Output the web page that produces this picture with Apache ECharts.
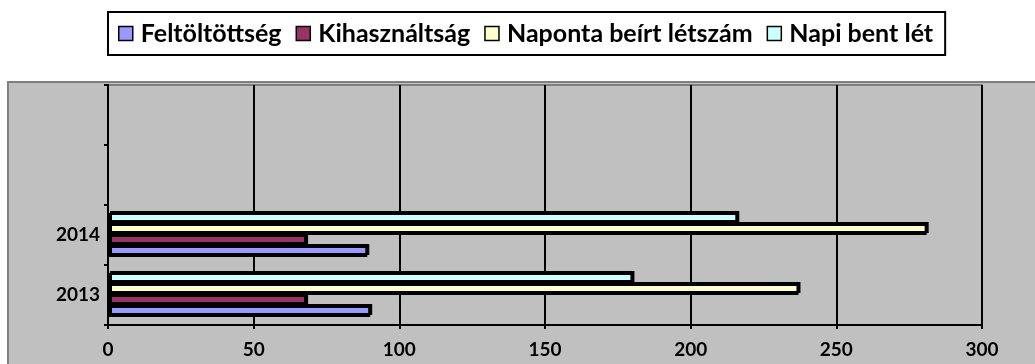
<!DOCTYPE html>
<html>
<head>
<meta charset="utf-8">
<script src="https://cdn.jsdelivr.net/npm/echarts@6/dist/echarts.min.js"></script>
<style>
  html, body { margin: 0; padding: 0; background: #ffffff; }
  #chart { width: 1035px; height: 364px; }
</style>
</head>
<body>
<div id="chart"></div>
<script>
// Years on the category axis; the two empty slots leave headroom above the bars
const years = ['2013', '2014', '', ''];
const seriesNames = ['Feltöltöttség', 'Kihasználtság', 'Naponta beírt létszám', 'Napi bent lét'];
const feltoltottseg = [90, 89];
const kihasznaltsag = [68, 68];
const napontaBeirt = [237, 281];
const napiBentLet = [180, 216];
const valueTicks = [0, 50, 100, 150, 200, 250, 300];

const colors = ['#9999ff', '#993366', '#ffffcc', '#ccffff'];
const values = [feltoltottseg, kihasznaltsag, napontaBeirt, napiBentLet];
const FONT = 'Lato, "Open Sans", sans-serif';

const chart = echarts.init(document.getElementById('chart'), null, { renderer: 'canvas' });

// Horizontal bars stack their series top-down, so the list is reversed
// to keep Feltöltöttség at the bottom of each year group.
const series = seriesNames.map((name, i) => ({
  name: name,
  type: 'bar',
  data: values[i],
  barWidth: 11,
  barGap: '0%',
  itemStyle: {
    color: colors[i],
    borderColor: '#000000',
    borderWidth: 2,
    shadowColor: '#000000',
    shadowBlur: 0,
    shadowOffsetX: 2,
    shadowOffsetY: -2
  },
  emphasis: { disabled: true },
  animation: false
})).reverse();

chart.setOption({
  backgroundColor: '#ffffff',
  animation: false,
  graphic: [{
    type: 'rect',
    z: -10,
    shape: { x: 8, y: 82, width: 1040, height: 300 },
    style: { fill: '#c0c0c0', stroke: '#808080', lineWidth: 2 },
    silent: true
  }],
  legend: {
    top: 12,
    left: 108,
    data: seriesNames,
    icon: 'rect',
    itemWidth: 14,
    itemHeight: 14,
    itemGap: 14,
    padding: [9, 12, 9, 10],
    borderColor: '#000000',
    borderWidth: 2,
    backgroundColor: '#ffffff',
    itemStyle: { borderColor: '#000000', borderWidth: 1.5, shadowBlur: 0, shadowOffsetX: 0, shadowOffsetY: 0 },
    textStyle: { fontFamily: FONT, fontWeight: 'bold', fontSize: 25, color: '#000000', padding: [0, 0, 0, 3] }
  },
  grid: {
    left: 108,
    right: 53,
    top: 85,
    bottom: 39,
    show: true,
    backgroundColor: 'transparent',
    borderColor: '#808080',
    borderWidth: 2
  },
  xAxis: {
    type: 'value',
    min: valueTicks[0],
    max: valueTicks[valueTicks.length - 1],
    interval: 50,
    axisLine: { show: true, lineStyle: { color: '#000000', width: 2 } },
    axisTick: { show: true, length: 4, lineStyle: { color: '#000000', width: 2 } },
    axisLabel: { fontFamily: FONT, fontWeight: 'bold', fontSize: 19, color: '#000000', margin: 15 },
    splitLine: { show: true, lineStyle: { color: '#000000', width: 2 } }
  },
  yAxis: {
    type: 'category',
    data: years,
    axisLine: { show: true, lineStyle: { color: '#000000', width: 2 } },
    axisTick: { show: true, length: 4, interval: 0, lineStyle: { color: '#000000', width: 2 } },
    axisLabel: { fontFamily: FONT, fontWeight: 'bold', fontSize: 19, color: '#000000', margin: 8 },
    splitLine: { show: false }
  },
  series: series
});
</script>
</body>
</html>
